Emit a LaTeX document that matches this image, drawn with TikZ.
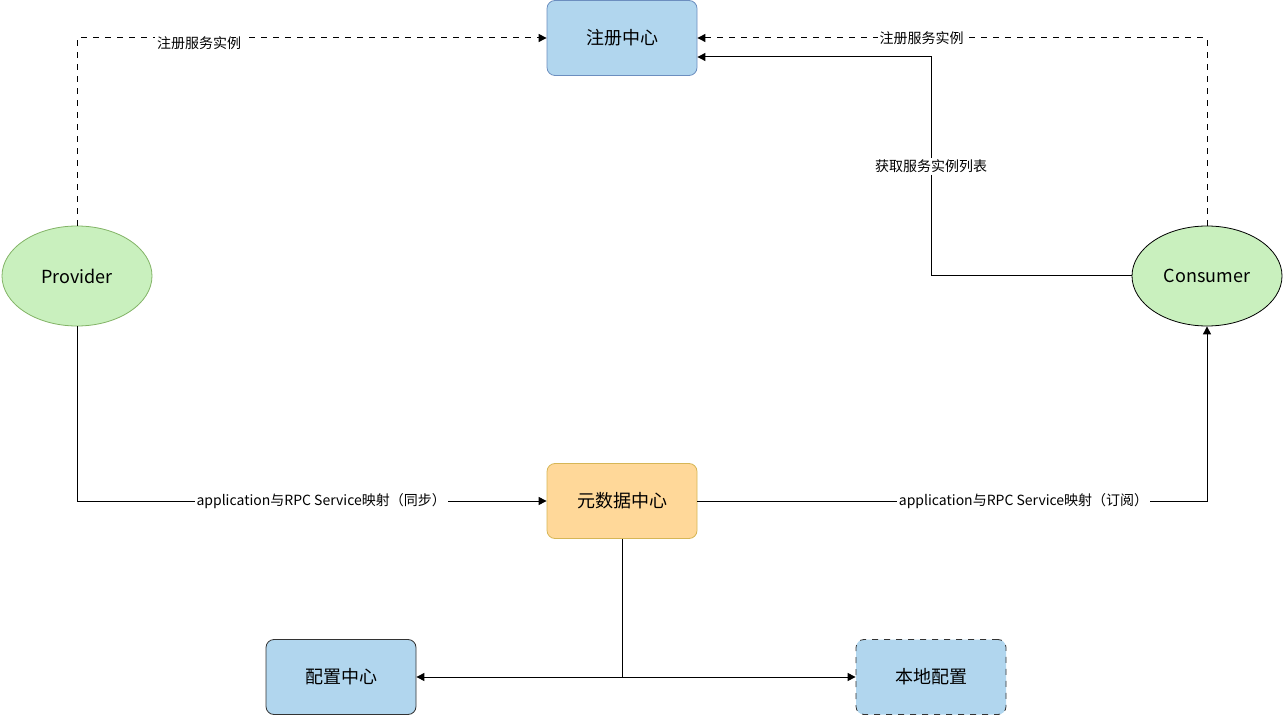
\documentclass[tikz,border=0pt]{standalone}
\usepackage{fontspec}
\setmainfont{Noto Sans CJK SC}
\usetikzlibrary{arrows.meta,shapes.geometric}
\definecolor{bfill}{HTML}{B1D6EE}
\definecolor{bdraw}{HTML}{6C8EBF}
\definecolor{ofill}{HTML}{FFD899}
\definecolor{odraw}{HTML}{D6B656}
\definecolor{gfill}{HTML}{C9F0BE}
\definecolor{gdraw}{HTML}{82B366}
\begin{document}
\begin{tikzpicture}[x=0.5pt,y=-0.5pt,
  box/.style={draw=bdraw,fill=bfill,rounded corners=4pt,minimum width=75pt,minimum height=37.5pt,font=\fontsize{9}{11}\selectfont},
  ell/.style={ellipse,draw=gdraw,fill=gfill,minimum width=75pt,minimum height=50pt,inner sep=0pt,font=\fontsize{9}{11}\selectfont},
  conn/.style={-{Triangle[length=4pt,width=4pt]},line width=0.5pt},
  lbl/.style={fill=white,inner sep=1pt,font=\fontsize{7}{9}\selectfont}]
\useasboundingbox (0,0) rectangle (1284,716);
\node[box] (reg) at (622,38) {注册中心};
\node[ell] (prov) at (77,276) {Provider};
\node[ell,draw=black] (cons) at (1207,276) {Consumer};
\node[box,draw=odraw,fill=ofill] (meta) at (622,501) {元数据中心};
\node[box,draw=black!80] (cfg) at (341,677) {配置中心};
\node[box,draw=black!80,dashed] (loc) at (931,677) {本地配置};
\coordinate (regL) at (reg.west);
\draw[conn,dashed] (prov.north) |- (reg.west) node[lbl,pos=0.63,yshift=-2.5pt] {注册服务实例};
\draw[conn,dashed] (cons.north) |- (reg.east) node[lbl,pos=0.78] {注册服务实例};
\coordinate (regE2) at ([yshift=-9.5pt]reg.east);
\draw[conn] (cons.west) -| (931,57) node[lbl,pos=0.75] {获取服务实例列表} -- (regE2);
\draw[conn] (prov.south) |- (meta.west) node[lbl,pos=0.76] {application与RPC Service映射（同步）};
\draw[conn] (meta.east) -| (cons.south) node[lbl,pos=0.32] {application与RPC Service映射（订阅）};
\coordinate (j) at (622,677);
\draw[line width=0.5pt] (meta.south) -- (j);
\draw[conn] (j) -- (cfg.east);
\draw[conn] (j) -- (loc.west);
\end{tikzpicture}
\end{document}
